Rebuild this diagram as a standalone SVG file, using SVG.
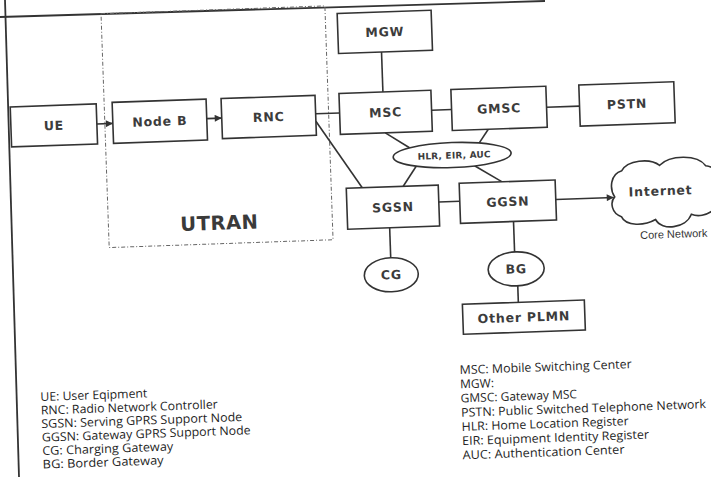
<svg xmlns="http://www.w3.org/2000/svg" width="711" height="477" viewBox="0 0 711 477">
<style>
.box{fill:#fff;stroke:#333;stroke-width:1.6}
.lbl{font-family:"DejaVu Sans",sans-serif;font-weight:bold;font-size:12.5px;fill:#3c3c3c;text-anchor:middle;letter-spacing:0.8px}
.small{font-size:9px;letter-spacing:0.2px}
.conn{stroke:#333;stroke-width:1.6;fill:none}
.leg{font-family:"Open Sans","Noto Sans",sans-serif;font-size:12px;fill:#1e1e1e}
</style>
<defs>
<marker id="arr" viewBox="0 0 10 10" refX="10" refY="5" markerWidth="8" markerHeight="7" markerUnits="userSpaceOnUse" orient="auto">
<path d="M0,0 L10,5 L0,10 Z" fill="#333"/>
</marker>
</defs>
<rect width="711" height="477" fill="#fff"/>
<g id="border">
<line x1="0" y1="17" x2="545" y2="1" stroke="#333" stroke-width="1.8"/>
<line x1="5" y1="0" x2="19" y2="477" stroke="#333" stroke-width="1.8"/>
</g>
<g transform="rotate(-2 355 238)">
<g id="utran">
<rect x="109" y="5" width="224" height="234" fill="none" stroke="#666" stroke-width="1" stroke-dasharray="4,2,1,2"/>
<text x="220" y="225" style="font-family:'DejaVu Sans',sans-serif;font-weight:bold;font-size:19.5px;fill:#3a3a3a;text-anchor:middle;letter-spacing:0.5px">UTRAN</text>
</g>
<g id="connectors">
<line class="conn" x1="101" y1="115" x2="117" y2="115" marker-end="url(#arr)"/>
<line class="conn" x1="211" y1="113.5" x2="226" y2="113.5" marker-end="url(#arr)"/>
<line class="conn" x1="320" y1="112.5" x2="344" y2="112.5"/>
<line class="conn" x1="320" y1="120" x2="364" y2="188"/>
<line class="conn" x1="388" y1="53" x2="388" y2="93"/>
<line class="conn" x1="436" y1="113" x2="456" y2="113"/>
<line class="conn" x1="551" y1="114" x2="584" y2="114"/>
<line class="conn" x1="389" y1="134" x2="413" y2="150"/>
<line class="conn" x1="492" y1="134" x2="482" y2="148"/>
<line class="conn" x1="419" y1="168" x2="405" y2="188"/>
<line class="conn" x1="477" y1="170" x2="504" y2="187"/>
<line class="conn" x1="440" y1="205" x2="461" y2="205"/>
<line class="conn" x1="390" y1="229" x2="390" y2="259"/>
<line class="conn" x1="514" y1="227" x2="514" y2="257.5"/>
<line class="conn" x1="516" y1="291.5" x2="516" y2="308"/>
<line class="conn" x1="557" y1="206.5" x2="615" y2="206.5" marker-end="url(#arr)"/>
</g>
<g id="ue"><rect class="box" x="15" y="95" width="86" height="40"/><text class="lbl" x="58" y="119.5">UE</text></g>
<g id="nodeb"><rect class="box" x="117" y="94" width="94" height="41"/><text class="lbl" x="164" y="119">Node B</text></g>
<g id="rnc"><rect class="box" x="226" y="94" width="94" height="40"/><text class="lbl" x="273" y="118.5">RNC</text></g>
<g id="mgw"><rect class="box" x="345" y="13" width="94" height="40"/><text class="lbl" x="392" y="37.5">MGW</text></g>
<g id="msc"><rect class="box" x="344" y="93" width="92" height="41"/><text class="lbl" x="390" y="118">MSC</text></g>
<g id="gmsc"><rect class="box" x="456" y="93" width="95" height="41"/><text class="lbl" x="503.5" y="118">GMSC</text></g>
<g id="pstn"><rect class="box" x="584" y="93" width="95" height="41"/><text class="lbl" x="631.5" y="118">PSTN</text></g>
<g id="hlr"><ellipse class="box" cx="455" cy="158.5" rx="59" ry="12.5"/><text class="lbl small" x="457" y="162">HLR, EIR, AUC</text></g>
<g id="sgsn"><rect class="box" x="348" y="188" width="92" height="41"/><text class="lbl" x="394" y="213">SGSN</text></g>
<g id="ggsn"><rect class="box" x="461" y="187" width="96" height="40"/><text class="lbl" x="509" y="211.5">GGSN</text></g>
<g id="internet">
<path class="box" d="M622 226 C612 222 611 211 616 206 C611 198 612 183 624 180 C630 170 652 168 662 176 C672 166 700 166 708 178 C722 180 728 198 718 206 C726 220 705 232 692 226 C686 240 662 242 656 230 C645 236 626 236 622 226 Z"/>
<text class="lbl" x="662" y="206">Internet</text>
<text x="640" y="249" style="font-family:'Liberation Sans',sans-serif;font-size:11px;fill:#333">Core Network</text>
</g>
<g id="cg"><ellipse class="box" cx="390" cy="276" rx="27" ry="17"/><text class="lbl" x="390" y="280.5">CG</text></g>
<g id="bg"><ellipse class="box" cx="515" cy="274.5" rx="28" ry="17"/><text class="lbl" x="515" y="279">BG</text></g>
<g id="otherplmn"><rect class="box" x="460" y="308" width="122" height="30"/><text class="lbl" x="521" y="327.5">Other PLMN</text></g>
<g id="legend-left">
<text class="leg" x="35" y="390" textLength="107" lengthAdjust="spacingAndGlyphs">UE: User Eqipment</text>
<text class="leg" x="35" y="403.5" textLength="177" lengthAdjust="spacingAndGlyphs">RNC: Radio Network Controller</text>
<text class="leg" x="35" y="417" textLength="201" lengthAdjust="spacingAndGlyphs">SGSN: Serving GPRS Support Node</text>
<text class="leg" x="35" y="430.5" textLength="209" lengthAdjust="spacingAndGlyphs">GGSN: Gateway GPRS Support Node</text>
<text class="leg" x="35" y="444" textLength="131" lengthAdjust="spacingAndGlyphs">CG: Charging Gateway</text>
<text class="leg" x="35" y="457.5" textLength="121" lengthAdjust="spacingAndGlyphs">BG: Border Gateway</text>
</g>
<g id="legend-right">
<text class="leg" x="455" y="377.7" textLength="172" lengthAdjust="spacingAndGlyphs">MSC: Mobile Switching Center</text>
<text class="leg" x="455" y="391.9">MGW:</text>
<text class="leg" x="455" y="406">GMSC: Gateway MSC</text>
<text class="leg" x="455" y="420.3" textLength="245" lengthAdjust="spacingAndGlyphs">PSTN: Public Switched Telephone Network</text>
<text class="leg" x="455" y="434.5" textLength="167" lengthAdjust="spacingAndGlyphs">HLR: Home Location Register</text>
<text class="leg" x="455" y="448.7" textLength="187" lengthAdjust="spacingAndGlyphs">EIR: Equipment Identity Register</text>
<text class="leg" x="455" y="462.9" textLength="162" lengthAdjust="spacingAndGlyphs">AUC: Authentication Center</text>
</g>
</g>
</svg>
